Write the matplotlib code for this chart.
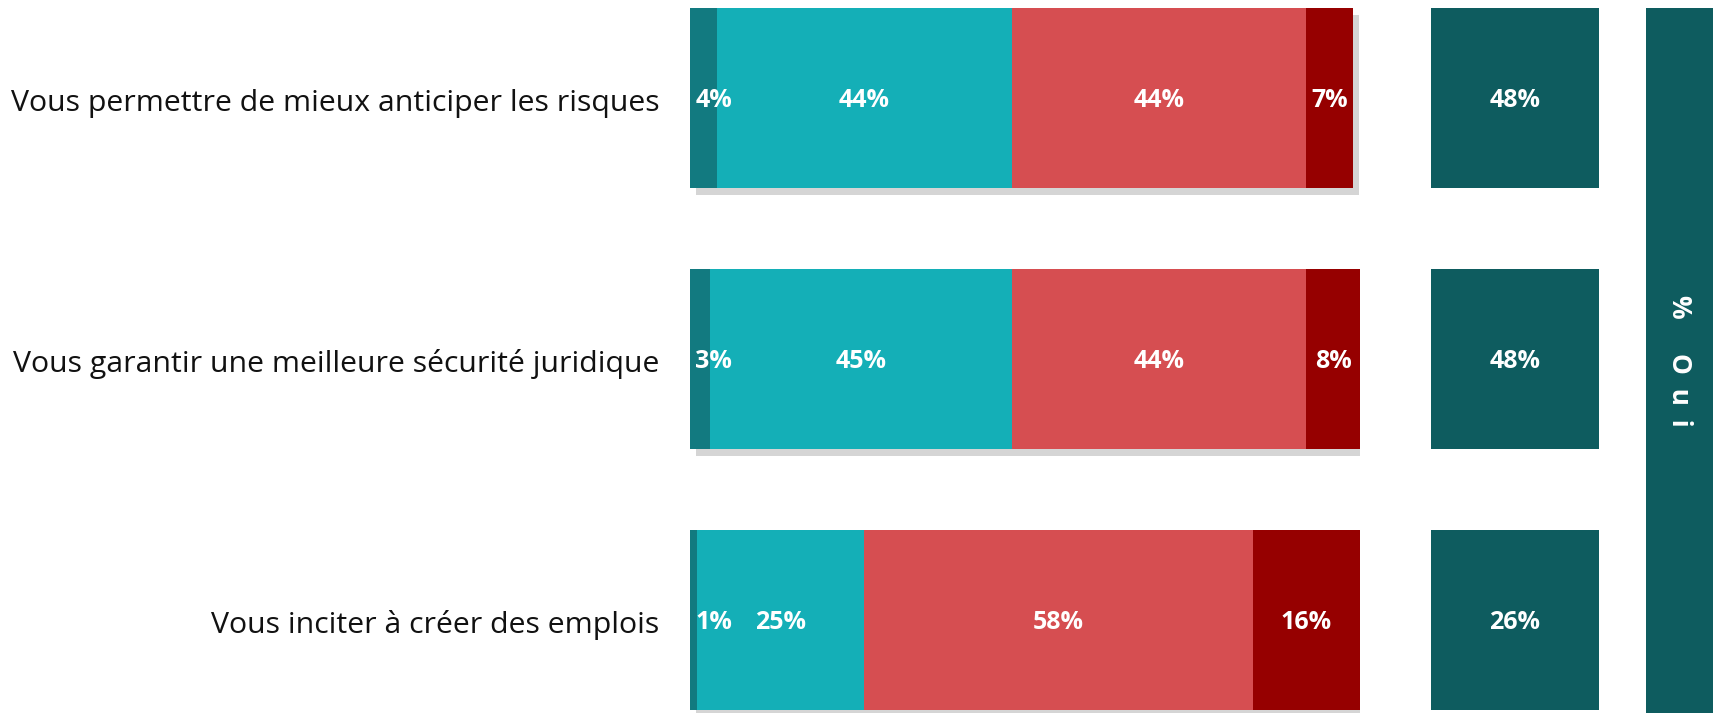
import matplotlib.pyplot as plt
import matplotlib.patheffects as pe

# Data
categories = [
    "Vous permettre de mieux anticiper les risques",
    "Vous garantir une meilleure sécurité juridique",
    "Vous inciter à créer des emplois",
]
oui_tout_fait = [4, 3, 1]
oui_plutot = [44, 45, 25]
non_plutot_pas = [44, 44, 58]
non_pas_du_tout = [7, 8, 16]
total_oui = [48, 48, 26]

seg_colors = ["#127A80", "#14AFB7", "#D64E51", "#960000"]
box_color = "#0E5C5F"

W, H = 1713, 713
fig = plt.figure(figsize=(W / 100, H / 100), dpi=100)

# row geometry (pixels)
row_top = 98
row_step = 261
bar_h = 180 / row_step
ylim = ((H - row_top) / row_step, -row_top / row_step)

font = "Open Sans"
pct_size = 18
dy = 0.01  # nudge labels slightly down

# main stacked bar axes
ax = fig.add_axes([690 / W, 0, (1360 - 690) / W, 1])
ax.set_xlim(0, 100)
ax.set_ylim(*ylim)
ax.axis("off")

shadow = [pe.SimplePatchShadow(offset=(4, -5), shadow_rgbFace="#888888", alpha=0.35),
          pe.Normal()]

series = [oui_tout_fait, oui_plutot, non_plutot_pas, non_pas_du_tout]
ypos = list(range(len(categories)))
left = [0] * len(categories)
for vals, col in zip(series, seg_colors):
    bars = ax.barh(ypos, vals, left=left, height=bar_h, color=col, linewidth=0)
    for b in bars:
        b.set_path_effects(shadow)
    for i, v in enumerate(vals):
        if v < 5 and left[i] == 0:
            ax.text(0.8, i + dy, f"{v}%", ha="left", va="center", color="white",
                    fontsize=pct_size, fontweight="bold", family=font)
        else:
            ax.text(left[i] + v / 2, i + dy, f"{v}%", ha="center", va="center",
                    color="white", fontsize=pct_size, fontweight="bold", family=font)
    left = [l + v for l, v in zip(left, vals)]

# category labels
for i, cat in enumerate(categories):
    ax.text(-4.6, i + 0.02, cat, ha="right", va="center", fontsize=21.8,
            color="#111111", family=font)

# total "Oui" boxes
axb = fig.add_axes([1431 / W, 0, (1599 - 1431) / W, 1])
axb.set_xlim(0, 1)
axb.set_ylim(*ylim)
axb.axis("off")
axb.barh(ypos, [1] * len(total_oui), height=bar_h, color=box_color, linewidth=0)
for i, v in enumerate(total_oui):
    axb.text(0.5, i + dy, f"{v}%", ha="center", va="center", color="white",
             fontsize=pct_size, fontweight="bold", family=font)

# vertical header strip
axs = fig.add_axes([1646 / W, 0, (W - 1646) / W, (H - 8) / H])
axs.set_xticks([])
axs.set_yticks([])
axs.set_facecolor(box_color)
for s in axs.spines.values():
    s.set_visible(False)
axs.text(0.5, 0.5, "%     O  u  i", rotation=-90, ha="center", va="center",
         color="white", fontsize=19, fontweight="bold", family=font,
         transform=axs.transAxes)

fig.savefig("out.png", dpi=100)
